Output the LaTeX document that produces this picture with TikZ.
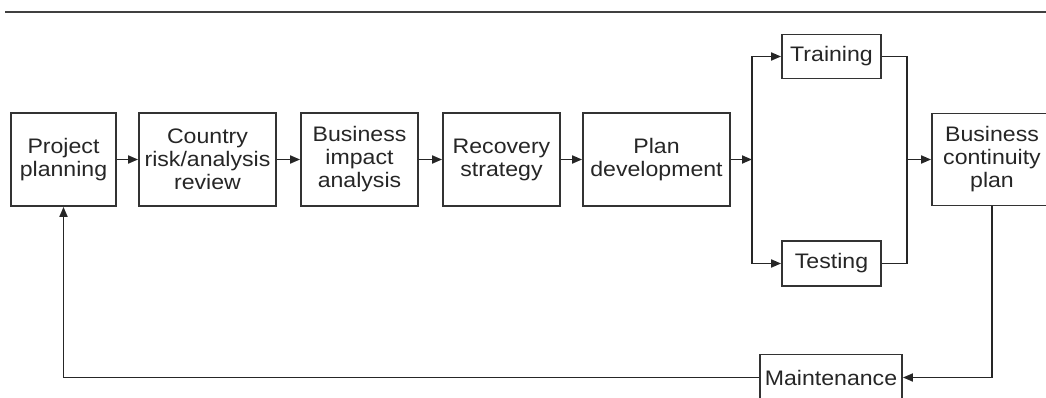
\documentclass[tikz,border=0pt]{standalone}
\usepackage{fontspec}
\setmainfont[FakeStretch=1.1]{Liberation Sans}
\usetikzlibrary{arrows.meta}
\begin{document}
\begin{tikzpicture}[x=1pt,y=-1pt,
  box/.style={draw=black!80,line width=1.8pt,rectangle,inner sep=0pt,align=center,
    text=black!85,font=\fontsize{21}{23}\selectfont},
  conn/.style={draw=black!85,line width=1.7pt},
  arr/.style={conn,-{Triangle[length=10pt,width=8pt]}}]
\useasboundingbox (0,0) rectangle (1046,398);
\fill[white] (0,0) rectangle (1046,398);
\draw[black!75,line width=2.2pt] (5,12) -- (1046,12);
\node[box,minimum width=105pt,minimum height=93pt] (proj) at (63.5,159.5) {Project\\planning};
\node[box,minimum width=137pt,minimum height=93pt] (ctry) at (207.5,159.5) {Country\\risk/analysis\\review};
\node[box,minimum width=117pt,minimum height=93pt] (bia) at (359.5,159.5) {Business\\impact\\analysis};
\node[box,minimum width=117pt,minimum height=93pt] (rec) at (501.5,159.5) {Recovery\\strategy};
\node[box,minimum width=147pt,minimum height=93pt] (plan) at (656.5,159.5) {Plan\\development};
\node[box,minimum width=99pt,minimum height=44pt] (train) at (831.5,56.5) {Training};
\node[box,minimum width=99pt,minimum height=45pt] (test) at (831.5,263.5) {Testing};
\node[box,minimum width=120pt,minimum height=92pt] (bcp) at (992,159.5) {Business\\continuity\\plan};
\node[box,minimum width=142pt,minimum height=46pt] (maint) at (831,377.5) {Maintenance};
\coordinate (split) at (752,159.5);
\coordinate (join) at (907,159.5);
\draw[arr] (proj.east) -- (ctry.west);
\draw[arr] (ctry.east) -- (bia.west);
\draw[arr] (bia.east) -- (rec.west);
\draw[arr] (rec.east) -- (plan.west);
\draw[arr] (plan.east) -- (split);
\draw[arr] (split) |- (train.west);
\draw[arr] (split) |- (test.west);
\draw[conn] (train.east) -| (join);
\draw[conn] (test.east) -| (join);
\draw[arr] (join) -- (bcp.west);
\draw[arr] (bcp.south) |- (maint.east);
\draw[arr] (maint.west) -| (proj.south);
\end{tikzpicture}
\end{document}
